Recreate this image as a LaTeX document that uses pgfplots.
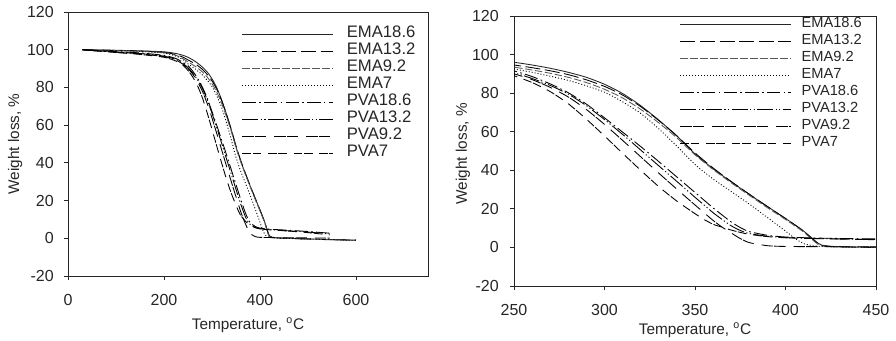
\documentclass[border=0pt]{standalone}
\usepackage{fontspec}
\setmainfont{Liberation Sans}
\usepackage{pgfplots}
\usepackage{pgfplotstable}
\pgfplotsset{compat=1.18}

\pgfplotstableread{
T e186 e132 e92 e7
30 100 100 100 100
50 99.9 99.9 99.9 99.9
100 99.7 99.6 99.6 99.5
150 99.4 99.3 99.2 99.1
200 98.9 98.6 98.4 98.2
225 98.0 97.4 97.0 96.6
240 97.0 96.0 95.2 94.6
250 96.0 94.6 93.5 92.5
260 94.6 93.2 92.0 90.8
270 92.9 91.6 90.3 88.8
280 90.8 89.6 88.2 86.6
290 88.2 86.9 85.5 83.8
300 84.6 83.5 82.0 80.5
310 79.8 79.0 77.5 75.5
320 73.5 73.0 71.6 69.5
330 66.0 65.8 64.6 61.5
340 57.8 57.8 56.8 52.5
350 48.5 49.0 48.0 43.0
360 40.8 41.2 40.4 35.5
370 34.0 34.2 33.5 29.0
380 27.5 27.6 27.0 22.5
390 21.2 21.2 20.6 15.5
400 15.0 15.0 14.5 8.5
405 11.8 11.8 11.3 4.8
410 8.5 8.4 8.0 2.0
415 4.5 4.3 3.8 0.9
418 2.2 2.0 1.6 0.6
420 1.2 1.0 0.8 0.5
425 0.6 0.5 0.4 0.3
430 0.4 0.3 0.3 0.2
450 0.1 0.0 0.0 0.0
500 -0.3 -0.4 -0.4 -0.4
550 -0.7 -0.7 -0.8 -0.8
600 -1.0 -1.0 -1.1 -1.1
}\ema

\pgfplotstableread{
T p186 p132 p92 p7
30 100 100 100 100
50 99.7 99.6 99.6 99.5
100 99.0 98.8 98.7 98.5
150 98.3 98.0 97.8 97.5
200 97.0 96.6 96.3 96.0
225 95.3 94.8 94.5 94.0
240 93.2 92.6 92.2 91.6
250 91.5 90.5 90.0 89.0
260 88.6 87.6 87.0 85.5
270 84.8 84.0 83.0 80.8
280 80.2 79.5 78.0 74.5
290 74.3 73.5 71.5 66.5
300 67.2 66.3 63.8 57.8
310 59.8 58.6 55.5 48.8
320 52.3 50.5 47.0 40.0
330 44.5 42.3 38.5 31.5
340 36.5 34.2 30.2 24.0
350 28.5 26.0 22.0 17.5
355 24.5 22.0 18.0 14.5
360 20.5 18.0 14.0 12.0
365 16.8 14.5 10.5 10.5
370 13.2 11.2 7.5 9.0
375 10.3 8.8 4.6 7.8
380 8.2 7.2 2.5 6.8
390 6.3 5.8 0.9 5.6
400 5.4 5.1 0.5 5.0
420 4.8 4.6 0.4 4.5
450 4.4 4.1 0.3 4.0
500 3.6 3.3 0.2 3.0
545 2.7 2.3 0.1 1.8
}\pva

\pgfplotsset{
  tga/.style={
    scale only axis,
    axis line style={line width=0.6pt, black!85},
    tick align=outside,
    major tick length=3pt,
    xtick pos=left, ytick pos=left,
    tick style={black!85, line width=0.6pt},
    ymin=-20, ymax=120, ytick={-20,0,20,40,60,80,100,120},
    /pgf/number format/assume math mode=true,
    /pgf/number format/1000 sep={},
    ticklabel style={font=\fontsize{12}{14}\selectfont, text=black!85},
    xticklabel style={anchor=center, inner sep=0pt, yshift=-15pt},
    label style={font=\fontsize{11.5}{14}\selectfont, text=black!85},
    ylabel={Weight loss, \%},
    xlabel={Temperature, \textsuperscript{o}C},
    legend cell align=left,
    every axis plot/.append style={line width=0.65pt, black},
    clip=true,
  },
  sE186/.style={black!85},
  sE132/.style={black, dash pattern=on 11.25pt off 3.4pt},
  sE92/.style={black!65, dash pattern=on 5.6pt off 1.9pt},
  sE7/.style={black, dash pattern=on 0.75pt off 1.5pt},
  sP186/.style={black, dash pattern=on 10pt off 2.5pt on 1.2pt off 2.5pt},
  sP132/.style={black, dash pattern=on 12pt off 1.8pt on 0.9pt off 1.8pt on 0.9pt off 1.8pt},
  sP92/.style={black, dash pattern=on 8.5pt off 1pt on 8.5pt off 6pt},
  sP7/.style={black, dash pattern=on 6.5pt off 1.2pt on 6.5pt off 5pt},
}

\begin{document}
\begin{tikzpicture}
\useasboundingbox (0,0) rectangle (672pt,255pt);
% ---------------- left panel ----------------
\begin{axis}[tga,
  at={(51pt,48pt)}, anchor=south west,
  width=270pt, height=198pt,
  xmin=0, xmax=750, xtick={0,200,400,600},
  yticklabel style={anchor=east, inner sep=0pt, xshift=-7.5pt},
  xlabel style={at={(axis description cs:0.5,-0.1856)}, anchor=center},
  ylabel style={at={(axis description cs:-0.147,0.5)}, anchor=center},
  legend image code/.code={\draw[#1] (0pt,0pt) -- (68pt,0pt);},
  legend style={draw=none, fill=none, inner sep=0pt, outer sep=0pt,
      row sep=0pt, column sep=10pt,
      at={(rel axis cs:0.4833,0.9477)}, anchor=north west,
      font=\fontsize{12.5}{15}\selectfont,
      nodes={inner sep=0pt, text height=8.5pt, text depth=4.25pt, text=black!85}},
]
\addplot[sE186, smooth, tension=0.4] table[x=T,y=e186] {\ema};
\addplot[sE132, smooth, tension=0.4] table[x=T,y=e132] {\ema};
\addplot[sE92, smooth, tension=0.4] table[x=T,y=e92] {\ema};
\addplot[sE7, smooth, tension=0.4] table[x=T,y=e7] {\ema};
\addplot[sP186, smooth, tension=0.4] table[x=T,y=p186] {\pva};
\addplot[sP132, smooth, tension=0.4] table[x=T,y=p132] {\pva};
\addplot[sP92, smooth, tension=0.4] table[x=T,y=p92] {\pva};
\addplot[sP7, smooth, tension=0.4] table[x=T,y=p7] {\pva};
\legend{EMA18.6,EMA13.2,EMA9.2,EMA7,PVA18.6,PVA13.2,PVA9.2,PVA7}
\end{axis}
% ---------------- right panel ----------------
\begin{axis}[tga,
  at={(385.5pt,40.5pt)}, anchor=south west,
  width=271.5pt, height=202.5pt,
  xmin=250, xmax=450, xtick={250,300,350,400,450},
  yticklabel style={anchor=east, inner sep=0pt, xshift=-8.25pt},
  xlabel style={at={(axis description cs:0.5,-0.163)}, anchor=center},
  ylabel style={at={(axis description cs:-0.141,0.49)}, anchor=center},
  legend image code/.code={\draw[#1] (0pt,0pt) -- (83pt,0pt);},
  legend style={draw=none, fill=none, inner sep=0pt, outer sep=0pt,
      row sep=0pt, column sep=7.5pt,
      at={(rel axis cs:0.4586,1.0)}, anchor=north west,
      font=\fontsize{11}{13}\selectfont,
      nodes={inner sep=0pt, text height=8.5pt, text depth=4.25pt, text=black!85}},
]
\addplot[sE186, smooth, tension=0.4] table[x=T,y=e186] {\ema};
\addplot[sE132, smooth, tension=0.4] table[x=T,y=e132] {\ema};
\addplot[sE92, smooth, tension=0.4] table[x=T,y=e92] {\ema};
\addplot[sE7, smooth, tension=0.4] table[x=T,y=e7] {\ema};
\addplot[sP186, smooth, tension=0.4] table[x=T,y=p186] {\pva};
\addplot[sP132, smooth, tension=0.4] table[x=T,y=p132] {\pva};
\addplot[sP92, smooth, tension=0.4] table[x=T,y=p92] {\pva};
\addplot[sP7, smooth, tension=0.4] table[x=T,y=p7] {\pva};
\legend{EMA18.6,EMA13.2,EMA9.2,EMA7,PVA18.6,PVA13.2,PVA9.2,PVA7}
\end{axis}
\end{tikzpicture}
\end{document}
